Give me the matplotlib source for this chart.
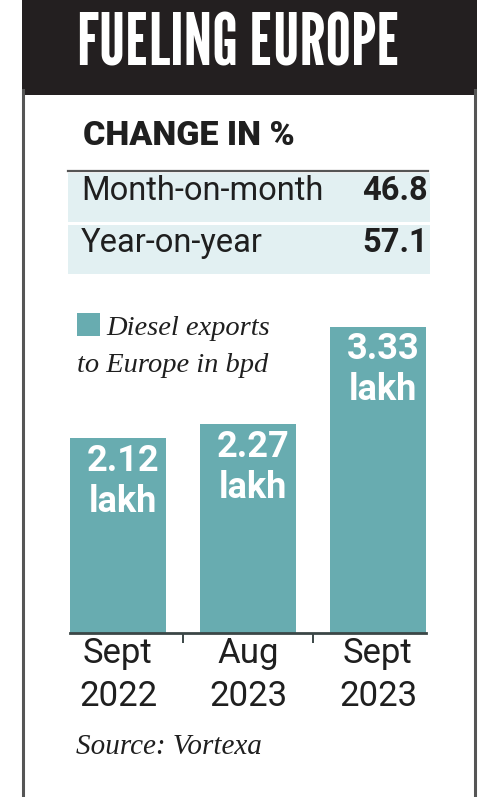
import matplotlib
matplotlib.use("Agg")
import matplotlib.pyplot as plt
from matplotlib.patches import Rectangle
from matplotlib.lines import Line2D

title = "FUELING EUROPE"
change_rows = ["Month-on-month", "Year-on-year"]
change_vals = [46.8, 57.1]
periods = ["Sept\n2022", "Aug\n2023", "Sept\n2023"]
exports_lakh = [2.12, 2.27, 3.33]
legend_lines = ["Diesel exports", "to Europe in bpd"]
source = "Source: Vortexa"

W, H = 482, 797
teal = "#68acb0"
band = "#e2f0f2"
dark = "#3b4646"
ink = "#1f1f1f"
sans = ["Roboto", "DejaVu Sans"]
serif = ["Liberation Serif", "DejaVu Serif"]

fig = plt.figure(figsize=(W / 100, H / 100), dpi=100)
fig.patch.set_facecolor("white")

def fx(px):
    return px / W

def fy(py):
    return 1 - py / H

def rect(x0, y0, x1, y1, color):
    fig.patches.append(Rectangle((fx(x0), fy(y1)), fx(x1) - fx(x0), fy(y0) - fy(y1),
                                 transform=fig.transFigure, color=color, lw=0))

# frame + black header
fig.lines.append(Line2D([fx(23), fx(23)], [fy(90), 0], transform=fig.transFigure, color="#555555", lw=2.2))
fig.lines.append(Line2D([fx(475), fx(475)], [fy(90), 0], transform=fig.transFigure, color="#555555", lw=2.2))
rect(22, 0, 477, 95, "#231f20")
fig.text(fx(239), fy(66), title, color="white", ha="center", va="baseline",
         fontsize=52, family=["League Gothic", "DejaVu Sans"])

# change table
fig.text(fx(83), fy(145), "CHANGE IN %", fontsize=24.5, fontweight="heavy", family=sans,
         color=ink, va="baseline")
fig.lines.append(Line2D([fx(68), fx(428)], [fy(171), fy(171)], transform=fig.transFigure, color="#555555", lw=1.6))
for i, (lab, val) in enumerate(zip(change_rows, change_vals)):
    top = 173 + i * 52
    rect(68, top, 430, top + 49, band)
    fig.text(fx(81), fy(top + 27), lab, fontsize=23.5, family=sans, color=ink, va="baseline")
    fig.text(fx(428), fy(top + 27), f"{val:.1f}", fontsize=23.5, fontweight="bold", family=sans,
             color=ink, va="baseline", ha="right")

# bars
ax = fig.add_axes([fx(53), fy(633), fx(443) - fx(53), fy(300) - fy(633)])
x = list(range(len(exports_lakh)))
bw = 0.74
ax.bar(x, exports_lakh, width=bw, color=teal)
ax.set_xlim(-0.5, len(x) - 0.5)
ax.set_ylim(0, 333 / 92)
ax.set_facecolor("none")
for s in ["top", "left", "right"]:
    ax.spines[s].set_visible(False)
ax.spines["bottom"].set_bounds(-bw / 2, x[-1] + bw / 2)
ax.spines["bottom"].set_color(dark)
ax.spines["bottom"].set_linewidth(2)
ax.set_yticks([])
ax.set_xticks(x)
ax.set_xticklabels(periods, fontsize=25, family=sans, color=ink, linespacing=1.38)
ax.tick_params(axis="x", which="major", length=0, pad=3)
ax.set_xticks([i + 0.5 for i in x[:-1]], minor=True)
ax.tick_params(axis="x", which="minor", length=7, width=1.4, color=dark)

for i, v in zip(x, exports_lakh):
    ax.annotate(f"{v:.2f}", (i, v), xytext=(3.5, -23.5), textcoords="offset points",
                ha="center", va="baseline", color="white", fontsize=26, fontweight="bold", family=sans)
    ax.annotate("lakh", (i, v), xytext=(3.5, -53), textcoords="offset points",
                ha="center", va="baseline", color="white", fontsize=26, fontweight="bold", family=sans)

# legend
rect(77, 313, 100, 336, teal)
fig.text(fx(106), fy(335), legend_lines[0], fontsize=20.5, style="italic", family=serif,
         color=ink, va="baseline")
fig.text(fx(77), fy(372), legend_lines[1], fontsize=20.5, style="italic", family=serif,
         color=ink, va="baseline")

fig.text(fx(76), fy(754), source, fontsize=21, style="italic", family=serif,
         color=ink, va="baseline")

fig.savefig("out.png", dpi=100)
